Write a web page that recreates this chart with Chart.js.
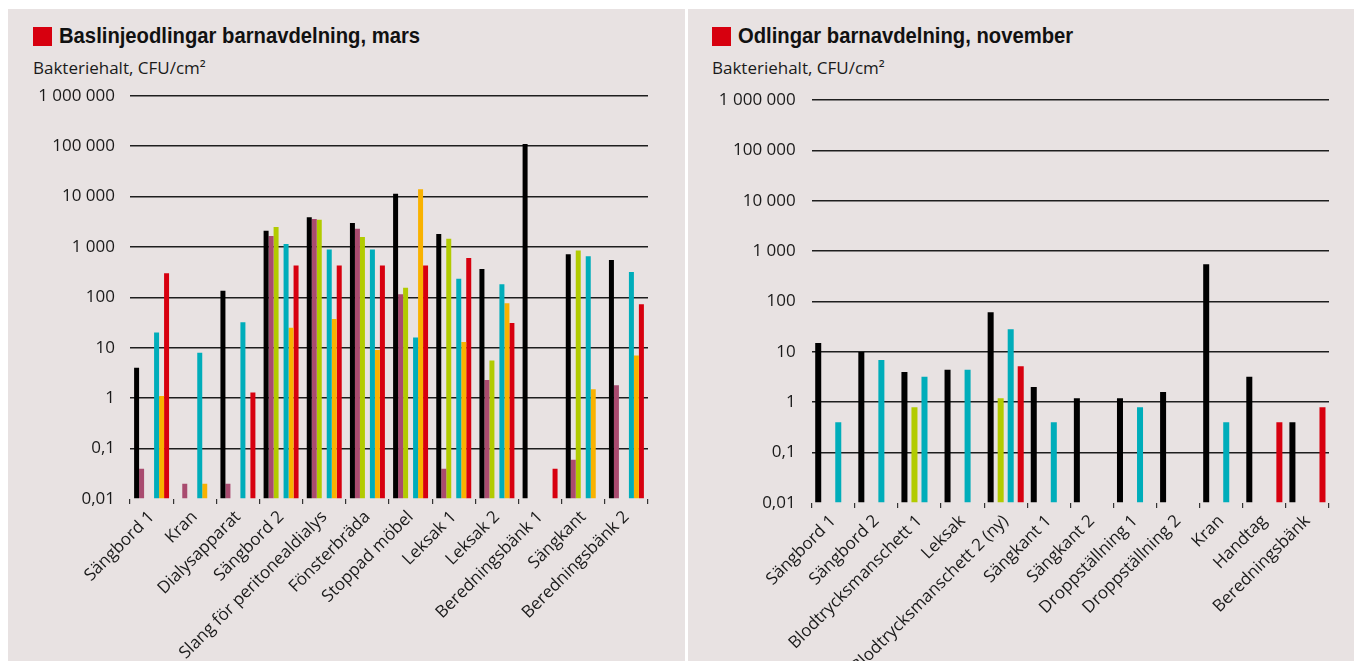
<!DOCTYPE html>
<html lang="sv">
<head>
<meta charset="utf-8">
<title>Bakteriehalt barnavdelning</title>
<script src="https://cdn.jsdelivr.net/npm/chart.js@4/dist/chart.umd.min.js"></script>
<style>
  html, body { margin: 0; padding: 0; background: #ffffff; }
  body { width: 1354px; height: 661px; position: relative; overflow: hidden; }
  .panel { position: absolute; top: 9px; height: 652px; background: #e8e2e2; }
  .panel canvas { position: absolute; left: 0; top: 0; }
  .title { position: absolute; font-family: "Liberation Sans Narrow", "Liberation Sans", sans-serif;
           font-weight: bold; font-size: 22px; line-height: 24px; color: #111; white-space: nowrap;
           transform: scaleX(0.92); transform-origin: 0 50%; }
  .mark { position: absolute; width: 19px; height: 19px; background: #d7000f; }
  .unit { position: absolute; font-family: "Open Sans", sans-serif; font-size: 17px; line-height: 20px;
          color: #1a1a1a; white-space: nowrap; }
</style>
</head>
<body>
<div class="panel" id="panelMars" style="left:8px; width:677px;">
  <div class="mark" style="left:25px; top:18px;"></div>
  <div class="title" style="left:51px; top:15px;">Baslinjeodlingar barnavdelning, mars</div>
  <div class="unit" style="left:25px; top:49px;">Bakteriehalt, CFU/cm²</div>
  <canvas id="chartMars" width="677" height="652"></canvas>
</div>
<div class="panel" id="panelNov" style="left:688px; width:666px;">
  <div class="mark" style="left:24px; top:18px;"></div>
  <div class="title" style="left:50px; top:15px;">Odlingar barnavdelning, november</div>
  <div class="unit" style="left:24px; top:49px;">Bakteriehalt, CFU/cm²</div>
  <canvas id="chartNov" width="666" height="652"></canvas>
</div>
<script>
// Log axis: decade ticks and their Swedish-formatted labels
const tickValues = [0.01, 0.1, 1, 10, 100, 1000, 10000, 100000, 1000000];
const tickLabels = ['0,01', '0,1', '1', '10', '100', '1 000', '10 000', '100 000', '1 000 000'];

// Baseline sampling, March (CFU/cm²); null = no bar
const marsCategories = ['Sängbord 1', 'Kran', 'Dialysapparat', 'Sängbord 2', 'Slang för peritonealdialys',
  'Fönsterbräda', 'Stoppad möbel', 'Leksak 1', 'Leksak 2', 'Beredningsbänk 1', 'Sängkant', 'Beredningsbänk 2'];
const marsBlack  = [4,    null, 135,  2100, 3900, 3000, 11300, 1800, 365, 110000, 720,  550];
const marsPurple = [0.04, 0.02, 0.02, 1650, 3600, 2300, 115,   0.04, 2.3, null,   0.06, 1.8];
const marsGreen  = [null, null, null, 2500, 3450, 1580, 155,   1450, 5.6, null,   850,  null];
const marsEmpty  = [null, null, null, null, null, null, null,  null, null, null,  null, null];
const marsCyan   = [20,   8,    32,   1150, 885,  885,  16,    235,  182, null,   650,  320];
const marsOrange = [1.1,  0.02, null, 25,   37,   9,    14000, 13,   76,  null,   1.5,  7];
const marsRed    = [300,  null, 1.3,  430,  430,  430,  430,   600,  31,  0.04,   null, 73];

// Sampling, November (CFU/cm²)
const novCategories = ['Sängbord 1', 'Sängbord 2', 'Blodtrycksmanschett 1', 'Leksak', 'Blodtrycksmanschett 2 (ny)',
  'Sängkant 1', 'Sängkant 2', 'Droppställning 1', 'Droppställning 2', 'Kran', 'Handtag', 'Beredningsbänk'];
const novBlack = [15,   10,   4,    4.4,  61,  2,    1.2,  1.2,  1.6,  550,  3.2,  0.4];
const novGreen = [null, null, 0.8,  null, 1.2, null, null, null, null, null, null, null];
const novCyan  = [0.4,  6.9,  3.2,  4.4,  28,  0.4,  null, 0.8,  null, 0.4,  null, null];
const novRed   = [null, null, null, null, 5.2, null, null, null, null, null, 0.4,  0.8];

const COLORS = {
  black: '#000000', purple: '#a94b6f', green: '#b2cb00', cyan: '#00adba', orange: '#f9b200', red: '#d7000f'
};
const textColor = '#1a1a1a';
const tickFont = { family: '"Open Sans", sans-serif', size: 17 };

function ds(data, color) {
  return { data: data, backgroundColor: color, borderWidth: 0, base: 0.01 };
}

function buildOptions(cfg) {
  return {
    responsive: false,
    animation: false,
    devicePixelRatio: 1,
    layout: { padding: { left: 0, right: cfg.padRight, top: cfg.padTop, bottom: 0 } },
    plugins: { legend: { display: false }, tooltip: { enabled: false }, title: { display: false } },
    datasets: { bar: { categoryPercentage: cfg.catPct, barPercentage: cfg.barPct } },
    scales: {
      x: {
        offset: true,
        border: { display: false },
        grid: { offset: true, drawOnChartArea: false, drawTicks: true, tickLength: 5, color: '#333', lineWidth: 1.2 },
        ticks: { autoSkip: false, minRotation: 45, maxRotation: 45, padding: 3, font: tickFont, color: textColor },
        afterFit: s => { s.height = cfg.xHeight; }
      },
      y: {
        type: 'logarithmic',
        min: tickValues[0],
        max: tickValues[tickValues.length - 1],
        border: { display: false },
        afterBuildTicks: s => { s.ticks = tickValues.map(v => ({ value: v })); },
        ticks: {
          padding: cfg.yPad,
          font: tickFont,
          color: textColor,
          callback: (value, index) => tickLabels[index]
        },
        grid: {
          drawTicks: false,
          lineWidth: 1.6,
          color: ctx => (ctx.tick && ctx.tick.value === tickValues[0]) ? 'rgba(0,0,0,0)' : '#1e1e1e'
        },
        afterFit: s => { s.width = cfg.yWidth; }
      }
    }
  };
}

new Chart(document.getElementById('chartMars'), {
  type: 'bar',
  data: {
    labels: marsCategories,
    datasets: [
      ds(marsBlack, COLORS.black),
      ds(marsPurple, COLORS.purple),
      ds(marsGreen, COLORS.green),
      ds(marsEmpty, 'rgba(0,0,0,0)'),
      ds(marsCyan, COLORS.cyan),
      ds(marsOrange, COLORS.orange),
      ds(marsRed, COLORS.red)
    ]
  },
  options: buildOptions({ padRight: 37, padTop: 86.7, catPct: 0.81, barPct: 1.0, xHeight: 162, yWidth: 122, yPad: 15 })
});

new Chart(document.getElementById('chartNov'), {
  type: 'bar',
  data: {
    labels: novCategories,
    datasets: [
      ds(novBlack, COLORS.black),
      ds(novGreen, COLORS.green),
      ds(novCyan, COLORS.cyan),
      ds(novRed, COLORS.red)
    ]
  },
  options: buildOptions({ padRight: 25, padTop: 91, catPct: 0.93, barPct: 0.6, xHeight: 158, yWidth: 123.7, yPad: 16 })
});
</script>
</body>
</html>
